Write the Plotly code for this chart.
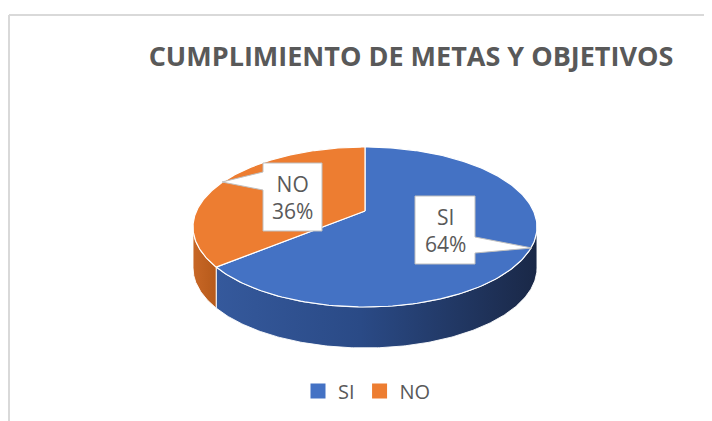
import numpy as np
import plotly.graph_objects as go

# ---------------- data ----------------
labels = ["SI", "NO"]
values = [64, 36]
top_colors = ["#4472C4", "#ED7D31"]
side_scales = [
    [[0, "#35599C"], [0.45, "#2A4A86"], [1, "#1A2847"]],
    [[0, "#C86726"], [1, "#B65A1B"]],
]
title_text = "CUMPLIMIENTO DE METAS Y OBJETIVOS"

# ---------------- geometry / style constants (page-pixel-like axis units) ----------------
W, H = 712, 421
OFF = 8              # page body margin offset
CX, CY, RX, RY, DEPTH = 365, 227, 172, 80, 41
PERSP = 0.2          # perspective strength of the tilted disc
TEXT_COLOR = "#595959"
FONT = "Open Sans"

_grid = np.linspace(0, 360, 3601)


def _raw(theta_deg):
    t = np.radians(theta_deg)
    x, z = np.sin(t), np.cos(t)
    d = 1 + PERSP * z
    return x / d, -z / d


_u, _v = _raw(_grid)
U_MID, U_HALF = (_u.max() + _u.min()) / 2, (_u.max() - _u.min()) / 2
V_MID, V_HALF = (_v.max() + _v.min()) / 2, (_v.max() - _v.min()) / 2
TH_RIGHT = _grid[np.argmax(_u)]
TH_LEFT = _grid[np.argmin(_u)]


def to_screen(u, v):
    return CX + RX * (u - U_MID) / U_HALF, CY + RY * (v - V_MID) / V_HALF


def rim(a, b, n=200):
    th = np.linspace(a, b, n)
    return to_screen(*_raw(th))


center_x, center_y = to_screen(0.0, 0.0)

total = sum(values)
bounds = np.concatenate([[0], np.cumsum(values) / total * 360])

fig = go.Figure()

# side walls (visible front part only)
for i, lab in enumerate(labels):
    a, b = max(bounds[i], TH_RIGHT), min(bounds[i + 1], TH_LEFT)
    if b <= a:
        continue
    xs, ys = rim(a, b)
    px = np.concatenate([xs, xs[::-1], xs[:1]])
    py = np.concatenate([ys, ys[::-1] + DEPTH, ys[:1]])
    fig.add_trace(go.Scatter(
        x=px, y=py, mode="lines", fill="toself",
        fillgradient=dict(type="horizontal", colorscale=side_scales[i]),
        line=dict(color="rgba(255,255,255,0.9)", width=1),
        hoverinfo="skip", showlegend=False))

# top faces
for i, lab in enumerate(labels):
    xs, ys = rim(bounds[i], bounds[i + 1])
    px = np.concatenate([[center_x], xs, [center_x]])
    py = np.concatenate([[center_y], ys, [center_y]])
    fig.add_trace(go.Scatter(
        x=px, y=py, mode="lines", fill="toself", fillcolor=top_colors[i],
        line=dict(color="white", width=1.2), name=lab,
        hoverinfo="skip", showlegend=False))

# legend entries
for lab, col in zip(labels, top_colors):
    fig.add_trace(go.Scatter(x=[None], y=[None], mode="markers", name=lab,
                             marker=dict(symbol="square", size=15, color=col)))


# ---------------- callout labels ----------------
def callout(bx, by, bw, bh, tip, side, base):
    x0, x1, y0, y1 = bx - bw / 2, bx + bw / 2, by - bh / 2, by + bh / 2
    tx, ty = tip
    b0, b1 = base
    if side == "left":
        return (f"M{x0},{y0} L{x1},{y0} L{x1},{y1} L{x0},{y1} "
                f"L{x0},{b1} L{tx},{ty} L{x0},{b0} Z")
    return (f"M{x0},{y0} L{x1},{y0} L{x1},{b0} L{tx},{ty} "
            f"L{x1},{b1} L{x1},{y1} L{x0},{y1} Z")


label_boxes = {
    "NO": dict(bx=292.5, by=197, bw=59, bh=68, tip=(222, 182), side="left", base=(172, 190)),
    "SI": dict(bx=445, by=230, bw=60, bh=68, tip=(532, 248), side="right", base=(237, 253)),
}

shapes = [
    dict(type="line", xref="x", yref="y", x0=9, x1=W + OFF, y0=15, y1=15,
         line=dict(color="#D9D9D9", width=2)),
    dict(type="line", xref="x", yref="y", x0=9, x1=9, y0=15, y1=H + OFF,
         line=dict(color="#D9D9D9", width=2)),
]
annotations = []
for lab, val in zip(labels, values):
    p = label_boxes[lab]
    shapes.append(dict(type="path", xref="x", yref="y", layer="above",
                       path=callout(**p), fillcolor="white",
                       line=dict(color="#BFBFBF", width=1)))
    annotations.append(dict(x=p["bx"], y=p["by"], xref="x", yref="y",
                            text=f"{lab}<br>{round(val / total * 100)}%",
                            showarrow=False,
                            font=dict(family=FONT, size=21, color=TEXT_COLOR)))

fig.update_layout(
    width=W, height=H,
    margin=dict(l=0, r=0, t=0, b=0),
    paper_bgcolor="white", plot_bgcolor="white",
    xaxis=dict(range=[OFF, W + OFF], visible=False, fixedrange=True),
    yaxis=dict(range=[H + OFF, OFF], visible=False, fixedrange=True),
    title=dict(text=f"<b>{title_text}</b>", x=(411 - OFF) / W, y=1 - (57 - OFF) / H,
               xanchor="center", yanchor="middle",
               font=dict(family=FONT, size=27, color=TEXT_COLOR)),
    legend=dict(orientation="h", x=(367 - OFF) / W, y=1 - (391 - OFF) / H,
                xanchor="center", yanchor="middle",
                font=dict(family=FONT, size=20, color=TEXT_COLOR),
                itemwidth=30, bgcolor="rgba(0,0,0,0)"),
    shapes=shapes, annotations=annotations,
)

fig.write_html("out.html")
